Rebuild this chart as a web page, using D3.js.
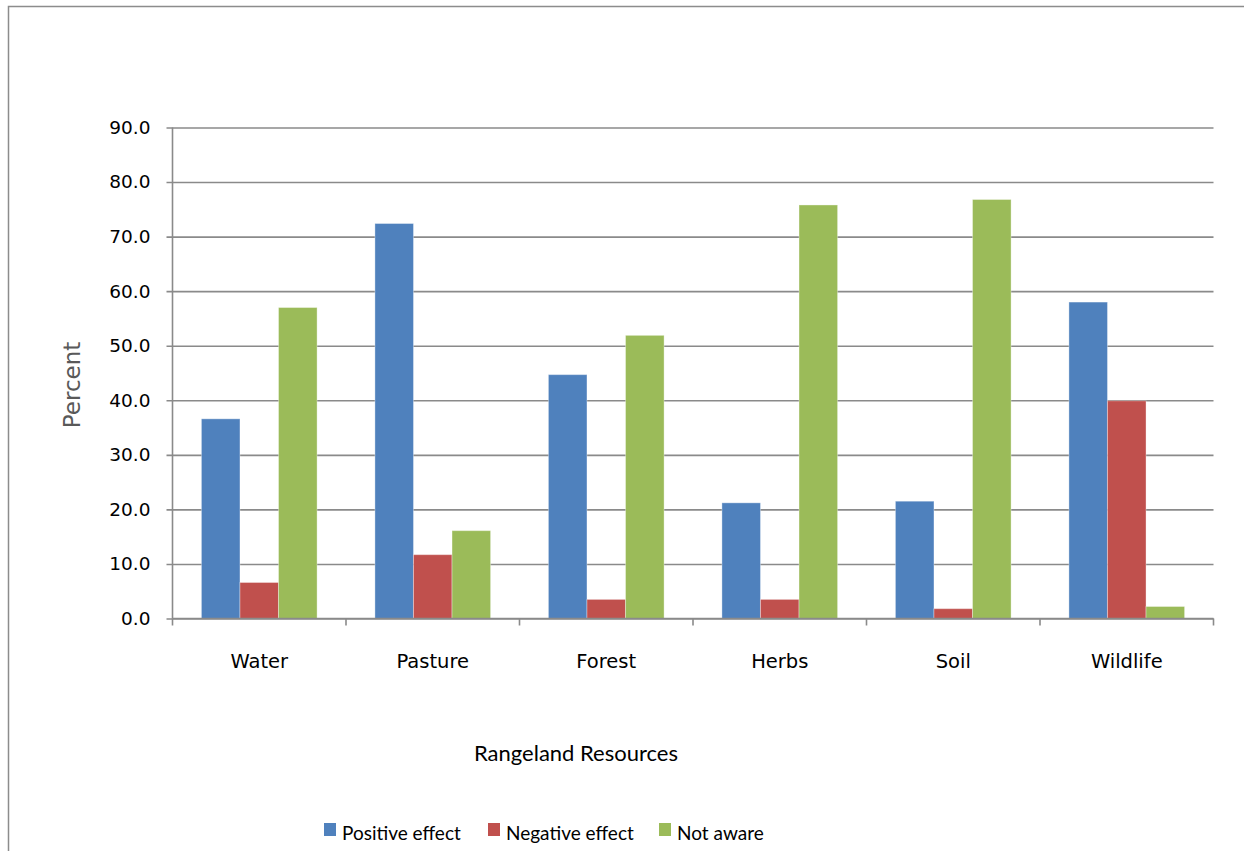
<!DOCTYPE html>
<html>
<head>
<meta charset="utf-8">
<script src="https://cdn.jsdelivr.net/npm/d3@7"></script>
<style>
  html, body { margin: 0; padding: 0; background: #fff; }
  svg { display: block; }
</style>
</head>
<body>
<svg id="chart" width="1244" height="851"></svg>
<script>
// Rangeland resources and perceived effect (percent of respondents)
const categories = ["Water", "Pasture", "Forest", "Herbs", "Soil", "Wildlife"];
const seriesNames = ["Positive effect", "Negative effect", "Not aware"];
const positiveEffect = [36.6, 72.4, 44.7, 21.2, 21.5, 58.0];
const negativeEffect = [6.6, 11.7, 3.5, 3.5, 1.8, 39.9];
const notAware = [57.0, 16.1, 51.9, 75.8, 76.8, 2.2];
const seriesColors = ["#4F81BD", "#C0504D", "#9BBB59"];
const yTicks = [0, 10, 20, 30, 40, 50, 60, 70, 80, 90];

const seriesValues = [positiveEffect, negativeEffect, notAware];
const rows = categories.map((c, i) => ({
  category: c,
  values: seriesNames.map((s, j) => ({ series: s, value: seriesValues[j][i] }))
}));

const svg = d3.select("#chart");

// chart area frame (left and top edges)
svg.append("path")
  .attr("d", "M8.5,851 V6.5 H1244")
  .attr("fill", "none")
  .attr("stroke", "#8c8c8c")
  .attr("stroke-width", 1.5);

const plot = { left: 172.5, right: 1213.5, top: 127.5, bottom: 618.5 };

const x0 = d3.scaleBand()
  .domain(categories)
  .range([plot.left, plot.right])
  .paddingInner(0).paddingOuter(0);

// gap width 150%: category = 3 bars + 1.5 bar widths of gap
const barW = x0.bandwidth() / 4.5;
const x1 = d3.scaleBand()
  .domain(seriesNames)
  .range([barW * 0.75, barW * 3.75])
  .padding(0);

const y = d3.scaleLinear().domain([0, 90]).range([plot.bottom, plot.top]);
const color = d3.scaleOrdinal().domain(seriesNames).range(seriesColors);

const gridColor = "#8a8a8a";

// y axis with gridlines that extend past the axis as tick marks
const yAxis = d3.axisLeft(y)
  .tickValues(yTicks)
  .tickFormat(d3.format(".1f"))
  .tickSizeInner(-(plot.right - plot.left + 6))
  .tickSizeOuter(0)
  .tickPadding(16);

const yg = svg.append("g")
  .attr("transform", `translate(${plot.left - 6},0)`)
  .call(yAxis);
yg.select(".domain").remove();
yg.selectAll(".tick line")
  .attr("stroke", gridColor)
  .attr("stroke-width", 1.6);
yg.selectAll(".tick text")
  .attr("fill", "#000")
  .style("font-family", "'DejaVu Sans', sans-serif")
  .style("font-size", "18.5px");

// vertical axis line
svg.append("line")
  .attr("x1", plot.left).attr("x2", plot.left)
  .attr("y1", plot.top).attr("y2", plot.bottom)
  .attr("stroke", gridColor).attr("stroke-width", 1.6);

// bars
const groups = svg.append("g")
  .selectAll("g")
  .data(rows)
  .join("g")
  .attr("transform", d => `translate(${x0(d.category)},0)`);

groups.selectAll("rect")
  .data(d => d.values)
  .join("rect")
  .attr("x", d => x1(d.series))
  .attr("width", x1.bandwidth())
  .attr("y", d => y(d.value))
  .attr("height", d => y(0) - y(d.value))
  .attr("fill", d => color(d.series))
  .attr("stroke", "rgba(255,255,255,0.35)")
  .attr("stroke-width", 1);

// x axis: baseline, boundary ticks, category labels
const xAxis = d3.axisBottom(x0).tickSize(0).tickPadding(0);
const xg = svg.append("g")
  .attr("transform", `translate(0,${plot.bottom})`)
  .call(xAxis);
xg.select(".domain").remove();
xg.selectAll(".tick text")
  .attr("dy", null)
  .attr("y", 49)
  .attr("fill", "#000")
  .style("font-family", "'DejaVu Sans', sans-serif")
  .style("font-size", "19.5px");

svg.append("line")
  .attr("x1", plot.left).attr("x2", plot.right)
  .attr("y1", plot.bottom).attr("y2", plot.bottom)
  .attr("stroke", gridColor).attr("stroke-width", 1.6);

const boundaries = categories.map(c => x0(c)).concat([x0(categories[categories.length - 1]) + x0.bandwidth()]);
svg.append("g")
  .selectAll("line")
  .data(boundaries)
  .join("line")
  .attr("x1", d => d).attr("x2", d => d)
  .attr("y1", plot.bottom).attr("y2", plot.bottom + 7)
  .attr("stroke", gridColor).attr("stroke-width", 1.6);

// axis titles
svg.append("text")
  .attr("transform", `translate(80,385) rotate(-90)`)
  .attr("text-anchor", "middle")
  .attr("fill", "#595959")
  .style("font-family", "'DejaVu Sans', sans-serif")
  .style("font-size", "23px")
  .text("Percent");

svg.append("text")
  .attr("x", 576)
  .attr("y", 761)
  .attr("text-anchor", "middle")
  .attr("fill", "#000")
  .style("font-family", "Lato, sans-serif")
  .style("font-size", "22px")
  .text("Rangeland Resources");

// legend
const legendX = [324, 488, 659];
const legend = svg.append("g")
  .selectAll("g")
  .data(seriesNames)
  .join("g")
  .attr("transform", (d, i) => `translate(${legendX[i]},823)`);

legend.append("rect")
  .attr("width", 12).attr("height", 13)
  .attr("fill", d => color(d));

legend.append("text")
  .attr("x", 18)
  .attr("y", 17)
  .attr("fill", "#000")
  .style("font-family", "Lato, sans-serif")
  .style("font-size", "19px")
  .text(d => d);
</script>
</body>
</html>
